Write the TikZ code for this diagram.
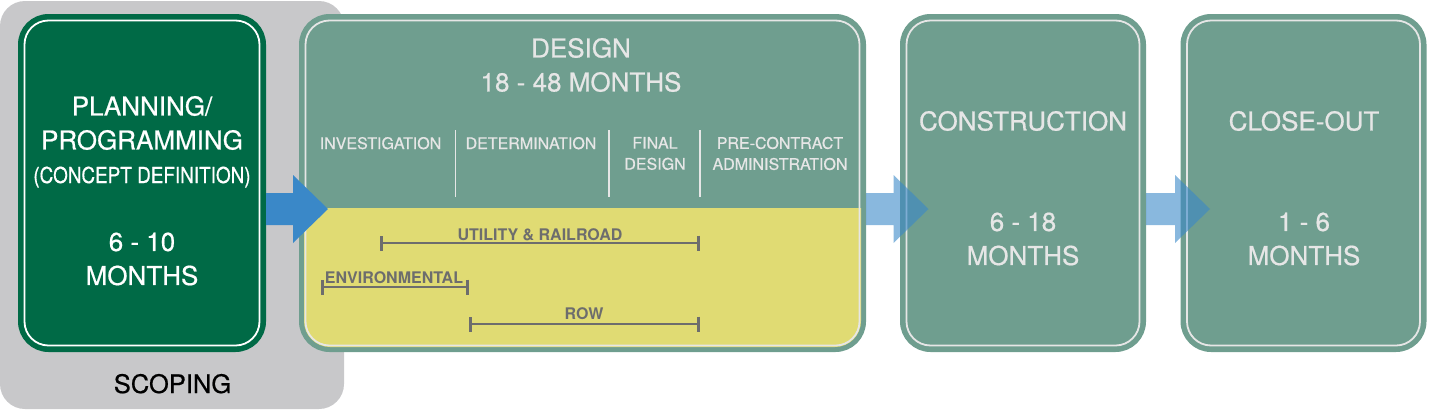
\documentclass[tikz,border=0pt]{standalone}
\usepackage{fontspec}
\setmainfont{TeX Gyre Heros}
\newfontfamily\medfont{TeX Gyre Heros}[FakeBold=0.6]
\usetikzlibrary{calc,arrows.meta}
\definecolor{scopegray}{HTML}{C8C8CA}
\definecolor{dkgreen}{HTML}{006A46}
\definecolor{teal}{HTML}{6F9E8F}
\definecolor{ylw}{HTML}{E0DB73}
\definecolor{txtlight}{HTML}{E6E6E6}
\definecolor{barcol}{HTML}{6D6D6D}
\definecolor{arrblue}{HTML}{3A88C8}
\newcommand{\blockarrow}[3]{%
  \fill[#1] let \p1=(#2), \p2=(#3) in
    (\x1,\y1+16pt) -- (\x2-35pt,\y1+16pt) -- (\x2-35pt,\y1+34pt) -- (\x2,\y1)
    -- (\x2-35pt,\y1-34pt) -- (\x2-35pt,\y1-16pt) -- (\x1,\y1-16pt) -- cycle;}
\tikzset{
  phase/.style={draw=#1, fill=#1, line width=5pt, rounded corners=28pt,
    inner sep=0pt, outer sep=0pt, minimum height=333pt},
  innerline/.style={draw=#1, line width=1.8pt, rounded corners=24pt},
  bigtext/.style={text=#1, align=center, inner sep=0pt, font=\medfont\fontsize{26}{34}\selectfont},
  subhead/.style={text=txtlight, align=center, inner sep=0pt, font=\medfont\fontsize{16}{21}\selectfont},
  barlabel/.style={text=barcol, inner sep=0pt, anchor=base, font=\bfseries\fontsize{16}{18}\selectfont},
  span/.style={draw=barcol, line width=2.6pt, {Bar[width=15pt]}-{Bar[width=15pt]}},
  divider/.style={draw=txtlight, line width=1.5pt},
}
\begin{document}
\begin{tikzpicture}[x=1pt, y=-1pt]
\useasboundingbox (0,0) rectangle (1430,410);
% scoping background
\node[fill=scopegray, rounded corners=25pt, inner sep=0pt, outer sep=0pt,
  minimum width=344pt, minimum height=408pt, anchor=north west] (scope) at (0,1) {};
\node[text=black, anchor=base, inner sep=0pt, font=\medfont\fontsize{25.5}{28}\selectfont] (scopelbl) at (172.5,393) {SCOPING};
% phase boxes
\node[phase=dkgreen, minimum width=243pt] (plan) at (142,183) {};
\node[phase=teal, minimum width=562pt] (design) at (582.5,183) {};
\node[phase=teal, minimum width=241pt] (constr) at (1023,183) {};
\node[phase=teal, minimum width=241pt] (close) at (1303.5,183) {};
% yellow lower part of design
\begin{scope}
  \clip[rounded corners=26pt] ([shift={(2.5,2.5)}]design.north west) rectangle ([shift={(-2.5,-2.5)}]design.south east);
  \fill[ylw] (design.west |- 0,208) rectangle (design.south east);
\end{scope}
% inner lines
\draw[innerline=white] ([shift={(4,4)}]plan.north west) rectangle ([shift={(-4,-4)}]plan.south east);
\foreach \b in {design,constr,close}
  \draw[innerline=txtlight] ([shift={(4,4)}]\b.north west) rectangle ([shift={(-4,-4)}]\b.south east);
% texts in planning box
\node[bigtext=white] (plant1) at (142,123) {PLANNING/\\PROGRAMMING};
\node[text=white, anchor=base, inner sep=0pt, font=\medfont\fontsize{22}{26}\selectfont] (plant2) at (142,183) {\scalebox{0.86}[1]{(CONCEPT DEFINITION)}};
\node[bigtext=white] (plant3) at (142,259) {6 - 10\\MONTHS};
% design texts
\node[bigtext=txtlight] (dest) at (581,65) {DESIGN\\18 - 48 MONTHS};
\node[subhead, anchor=base] (inv) at (380.5,149) {INVESTIGATION};
\node[subhead, anchor=base] (det) at (531,149) {DETERMINATION};
\node[subhead] (fin) at (655,153.5) {FINAL\\DESIGN};
\node[subhead] (pre) at (780,153.5) {PRE-CONTRACT\\ADMINISTRATION};
\draw[divider] (455.5,130) -- (455.5,197);
\draw[divider] (609,130) -- (609,197);
\draw[divider] (700,130) -- (700,197);
% spans
\draw[span] (380,243) -- (700,243);
\node[barlabel] (utl) at (540,240) {UTILITY \& RAILROAD};
\draw[span] (321,287) -- (469,287);
\node[barlabel] (env) at (394,283) {ENVIRONMENTAL};
\draw[span] (469,324) -- (700,324);
\node[barlabel] (row) at (584,319) {ROW};
% construction / close-out texts
\node[bigtext=txtlight] (cont1) at (1023,121) {CONSTRUCTION};
\node[bigtext=txtlight] (cont2) at (1023,239) {6 - 18\\MONTHS};
\node[bigtext=txtlight] (clot1) at (1304,121) {CLOSE-OUT};
\node[bigtext=txtlight] (clot2) at (1304,239) {1 - 6\\MONTHS};
% arrows
\coordinate (a1s) at ([shift={(2.5,26)}]plan.east);
\coordinate (a1t) at ([shift={(26.5,26)}]design.west);
\coordinate (a2s) at ([shift={(2.5,26)}]design.east);
\coordinate (a2t) at ([shift={(26,26)}]constr.west);
\coordinate (a3s) at ([shift={(2.5,26)}]constr.east);
\coordinate (a3t) at ([shift={(27,26)}]close.west);
\blockarrow{arrblue}{a1s}{a1t}
\blockarrow{arrblue, fill opacity=0.6}{a2s}{a2t}
\blockarrow{arrblue, fill opacity=0.6}{a3s}{a3t}
\end{tikzpicture}
\end{document}
